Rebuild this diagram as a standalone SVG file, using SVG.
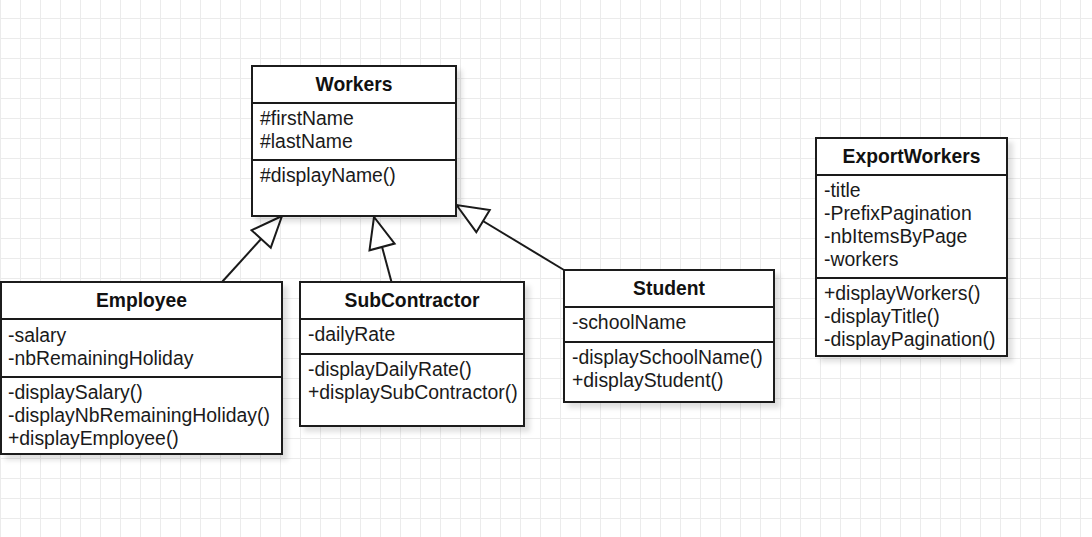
<svg xmlns="http://www.w3.org/2000/svg" width="1092" height="537" viewBox="0 0 1092 537">
  <style>
    .box { fill: #ffffff; stroke: #1a1a1a; stroke-width: 2; }
    .div { stroke: #1a1a1a; stroke-width: 2; }
    .title { font-family: "Liberation Sans", Arial, sans-serif; font-size: 19.3px; font-weight: bold; fill: #111111; text-anchor: middle; }
    .item { font-family: "Liberation Sans", Arial, sans-serif; font-size: 19.4px; fill: #1a1a1a; }
    .edge { fill: none; stroke: #1a1a1a; stroke-width: 2; }
  </style>
  <defs>
    <pattern id="grid" x="0" y="0" width="20" height="20" patternUnits="userSpaceOnUse">
      <path d="M0.5,0 V20 M0,18.5 H20" fill="none" stroke="#ebebeb" stroke-width="1"/>
    </pattern>
    <filter id="shadow" x="-10%" y="-10%" width="130%" height="130%">
      <feDropShadow dx="5" dy="5" stdDeviation="2.5" flood-color="#000000" flood-opacity="0.12"/>
    </filter>
    <marker id="inherit" markerUnits="userSpaceOnUse" viewBox="-2 -16 36 32" refX="31" refY="0" markerWidth="36" markerHeight="32" orient="auto" overflow="visible">
      <path d="M31,0 L0,-13 L0,13 Z" fill="#ffffff" stroke="#1a1a1a" stroke-width="2" stroke-linejoin="miter"/>
    </marker>
  </defs>

  <rect x="0" y="0" width="1092" height="537" fill="#ffffff"/>
  <rect x="0" y="0" width="1092" height="537" fill="url(#grid)"/>

  <g id="connectors">
    <line class="edge" x1="222" y1="282" x2="282" y2="216" marker-end="url(#inherit)"/>
    <line class="edge" x1="391.5" y1="282" x2="374" y2="217" marker-end="url(#inherit)"/>
    <line class="edge" x1="564" y1="270" x2="456.5" y2="205" marker-end="url(#inherit)"/>
  </g>

  <g id="Workers">
    <rect class="box" x="252" y="66" width="204" height="150" filter="url(#shadow)"/>
    <line class="div" x1="252" y1="103" x2="456" y2="103"/>
    <line class="div" x1="252" y1="160" x2="456" y2="160"/>
    <text class="title" x="354" y="91">Workers</text>
    <text class="item" x="260" y="124.5">#firstName</text>
    <text class="item" x="260" y="147.5">#lastName</text>
    <text class="item" x="260" y="182">#displayName()</text>
  </g>

  <g id="Employee">
    <rect class="box" x="1" y="282" width="281" height="172" filter="url(#shadow)"/>
    <line class="div" x1="1" y1="319" x2="282" y2="319"/>
    <line class="div" x1="1" y1="377" x2="282" y2="377"/>
    <text class="title" x="141.5" y="307">Employee</text>
    <text class="item" x="8" y="341.5">-salary</text>
    <text class="item" x="8" y="364.5">-nbRemainingHoliday</text>
    <text class="item" x="8" y="399">-displaySalary()</text>
    <text class="item" x="8" y="422">-displayNbRemainingHoliday()</text>
    <text class="item" x="8" y="445">+displayEmployee()</text>
  </g>

  <g id="SubContractor">
    <rect class="box" x="300" y="282" width="224" height="144" filter="url(#shadow)"/>
    <line class="div" x1="300" y1="319" x2="524" y2="319"/>
    <line class="div" x1="300" y1="354" x2="524" y2="354"/>
    <text class="title" x="412" y="307">SubContractor</text>
    <text class="item" x="308" y="341">-dailyRate</text>
    <text class="item" x="308" y="376">-displayDailyRate()</text>
    <text class="item" x="308" y="399">+displaySubContractor()</text>
  </g>

  <g id="Student">
    <rect class="box" x="564" y="270" width="210" height="132" filter="url(#shadow)"/>
    <line class="div" x1="564" y1="307" x2="774" y2="307"/>
    <line class="div" x1="564" y1="342" x2="774" y2="342"/>
    <text class="title" x="669" y="295">Student</text>
    <text class="item" x="572" y="329">-schoolName</text>
    <text class="item" x="572" y="364">-displaySchoolName()</text>
    <text class="item" x="572" y="387">+displayStudent()</text>
  </g>

  <g id="ExportWorkers">
    <rect class="box" x="816" y="138" width="191" height="218" filter="url(#shadow)"/>
    <line class="div" x1="816" y1="175" x2="1007" y2="175"/>
    <line class="div" x1="816" y1="278" x2="1007" y2="278"/>
    <text class="title" x="911.5" y="162.5">ExportWorkers</text>
    <text class="item" x="824" y="197">-title</text>
    <text class="item" x="824" y="220">-PrefixPagination</text>
    <text class="item" x="824" y="243">-nbItemsByPage</text>
    <text class="item" x="824" y="266">-workers</text>
    <text class="item" x="824" y="299.5">+displayWorkers()</text>
    <text class="item" x="824" y="322.5">-displayTitle()</text>
    <text class="item" x="824" y="345.5">-displayPagination()</text>
  </g>
</svg>
